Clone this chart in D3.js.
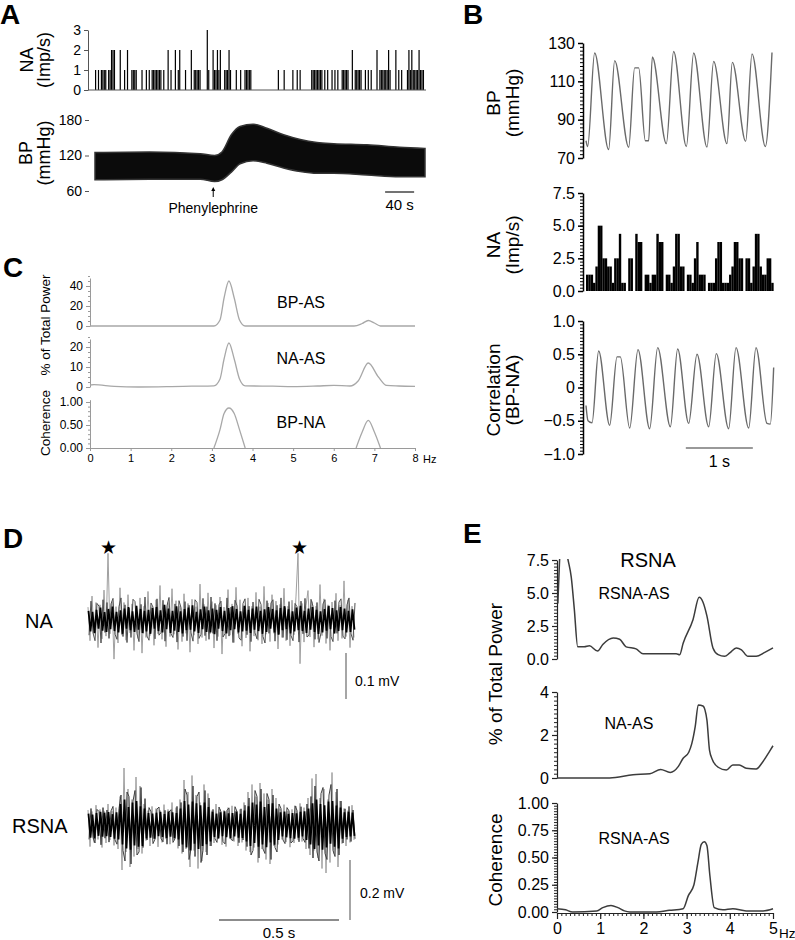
<!DOCTYPE html>
<html><head><meta charset="utf-8">
<script src="https://cdn.jsdelivr.net/npm/d3@7"></script>
<style>body{margin:0;background:#fff}svg{display:block}</style>
</head><body><svg id="c" width="795" height="940"></svg>
<script>
// ================= DATA =================
// Panel A – NA spike histogram (bin start, s; 2-s bins) and counts (imp/s)
const aNaSec = [0,4,8,10,12,14,18,20,22,24,26,34,40,44,50,52,54,56,64,70,74,78,80,82,84,86,88,90,94,100,104,110,114,116,124,132,136,138,140,142,144,154,156,162,164,166,168,170,172,178,180,182,184,186,194,200,206,208,210,212,214,252,260,272,278,282,298,300,302,304,306,308,310,312,316,320,326,330,334,340,342,344,346,348,354,358,360,362,364,366,372,376,380,388,392,394,396,398,400,402,404,406,414,418,422,430,432,434,436,438,440,442,444,446,448,450,452];
const aNaCount = [1,1,1,1,1,1,1,1,2,2,2,2,1,2,1,1,1,1,1,1,1,1,1,1,1,1,1,1,1,2,1,2,1,2,1,2,1,1,1,1,1,3,1,2,1,1,2,1,2,1,1,1,2,1,1,1,1,1,1,1,1,1,1,1,1,1,1,1,1,1,1,1,1,1,1,1,1,1,1,1,1,1,1,1,2,1,1,1,1,1,1,1,1,2,1,1,1,1,1,1,2,1,2,1,1,1,2,1,2,1,1,1,1,2,1,1,1];
// Panel A – BP envelope (time s, systolic / diastolic mmHg)
const aBpTime = [0,75,145,165,175,188,200,218,237,260,283,306,329,375,420,455];
const aBpSys  = [125,126,123,120,126,155,169,173,166,155,147,142,140,138,134,132];
const aBpDia  = [79,80,80,76,79,92,106,111,107,99,93,90,90,87,84,84];
const aPhenylephrineSec = 163;
const aTicksNa = [0,1,2,3];
const aTicksBp = [60,120,180];

// Panel B – BP (s, mmHg)
const bBpT = [0,0.025,0.129,0.338,0.428,0.637,0.726,0.786,0.886,0.935,0.990,1.199,1.308,1.498,1.607,1.806,1.905,2.104,2.184,2.383,2.478,2.677,2.776];
const bBpV = [79,76,124.8,74.4,120.8,75.6,117,117,79,79,122.7,77.5,125.6,76,124.8,75.7,120.4,77.5,119.9,78.7,124.3,76,125];
// Panel B – NA rate per 0.035-s bin (imp/s)
const bNaRate = [1.25,1.25,1.25,0.625,1.875,5,5,2.5,2.5,1.875,1.875,0.625,2.5,2.5,4.375,0.625,0.625,0,2.5,2.5,0,4.375,3.75,3.75,0,1.25,1.25,0.625,1.25,1.25,4.375,3.75,3.75,0,1.25,1.25,0.625,1.875,4.375,4.375,1.875,1.875,0,1.25,1.25,0.625,2.5,3.75,1.25,1.25,1.25,0,0.625,0.625,0.625,2.5,3.75,3.75,0.625,0.625,0.625,1.25,1.875,3.75,3.75,2.5,2.5,0,2.5,2.5,0.625,1.875,4.375,4.375,1.875,1.25,1.25,2.5,2.5,0.625];
// Panel B – correlation (s, r)
const bCorT = [0,0.03,0.09,0.189,0.353,0.463,0.512,0.652,0.776,0.950,1.070,1.259,1.368,1.532,1.657,1.831,1.945,2.129,2.239,2.428,2.537,2.701,2.751,2.801];
const bCorV = [-0.27,-0.5,-0.53,0.55,-0.57,0.46,0.46,-0.61,0.57,-0.62,0.6,-0.59,0.58,-0.54,0.5,-0.59,0.51,-0.62,0.6,-0.61,0.6,-0.54,-0.55,0.3];

// Panel C – spectra (Hz)
const cBpF = [0,3.05,3.2,3.3,3.42,3.55,3.68,3.82,6.5,6.7,6.85,7.0,7.15,8.0];
const cBpV = [0,0,6,28,45,28,6,0,0,2.5,5.5,3,0,0];
const cNaF = [0,0.1,0.6,1.2,2.0,2.5,3.05,3.2,3.3,3.42,3.55,3.68,3.82,4.5,5.0,5.6,6.0,6.4,6.6,6.85,7.1,7.3,7.6,8.0];
const cNaV = [1,1.2,0.3,0,0.2,0.4,0.6,4,14,22,14,4,0.6,0.4,0.2,0.5,0.8,0.5,3,12,5,0.8,0.5,0.3];
const cCohF1 = [3.05,3.2,3.3,3.42,3.55,3.68,3.82];
const cCohV1 = [0,0.4,0.75,0.87,0.75,0.4,0];
const cCohF2 = [6.55,6.7,6.85,7.0,7.15];
const cCohV2 = [0,0.35,0.6,0.35,0];
const cHzTicks = [0,1,2,3,4,5,6,7,8];

// Panel D – raw nerve traces (µV), one sample per 1/120 s per layer
const dNaGray = [28,-45,52,-30,38,-60,33,-41,65,-35,145,-30,40,-85,29,-50,70,-33,38,-44,55,-28,35,-66,31,-40,48,-72,30,-38,62,-34,29,-55,44,-30,75,-42,33,-58,38,-36,68,-31,42,-64,30,-47,57,-29,36,-70,45,-33,29,-52,78,-38,34,-45,59,-30,40,-61,32,-36,50,-74,28,-41,66,-33,35,-49,71,-30,44,-57,31,-39,48,-68,30,-35,60,-44,29,-52,73,-31,37,-47,55,-29,41,-63,34,-38,69,-45,30,-56,43,-32,52,145,-95,36,-48,31,64,-37,40,-59,30,-42,77,-34,46,-51,33,-66,39,-30,58,-45,32,-40,85,-36,44,-60,30,-38];
const dNaMid = [-33,41,-28,-45,36,30,-50,44,-27,38,-40,35,47,-31,-42,29,48,-36,33,-49,26,-38,45,40,-30,-47,34,-29,50,-35,-44,37,28,-41,46,-33,-27,43,-46,31,49,-30,-38,35,-48,42,27,-36,40,-45,32,-28,-46,44,38,-40,-31,47,-34,29,-42,50,-29,36,-45,33,41,-37,-30,48,-35,28,-49,43,31,-39,-44,36,46,-32,30,-47,39,-28,-41,45,34,-36,-50,42,-29,37,44,-46,32,-31,48,-38,27,-43,40,-34,-45,36,29,-48,41,-30,47,-37,-33,45,30,-42,38,-49,-28,35,44,-40,31,-36,-47,42,-29,39,46,-35,-41,33,48,-30,-44,37];
const dNaBlack = [20,-25,18,-28,22,-19,27,-23,17,-26,24,-20,29,-24,18,-27,21,-30,25,-19,28,-22,19,-26,31,-21,24,-28,20,-25,22,-30,26,-19,28,-24,21,-27,33,-20,25,-28,20,-23,30,-26,19,-29,24,-22,27,-21,32,-25,18,-28,23,-20,29,-26,21,-27,25,-31,22,-19,28,-24,20,-29,26,-22,30,-20,24,-27,19,-25,31,-23,22,-28,25,-21,29,-24,20,-30,23,-26,28,-19,24,-27,21,-32,26,-22,30,-20,23,-29,19,-25,27,-22,31,-24,20,-28,25,-21,28,-26,22,-30,19,-27,24,-23,30,-20,26,-29,21,-24,28,-22,25,-27,20,-26,23,-21];
const dRsGray = [50,-72,45,-58,66,-48,52,-75,47,-60,70,-50,46,-68,58,-80,95,-150,190,-90,120,-140,85,-105,160,-80,130,-95,70,-52,48,-70,62,-46,55,-73,49,-58,68,-47,52,-64,75,-50,58,-78,85,-95,150,-80,110,-140,165,-85,100,-145,75,-120,135,-90,105,-70,48,-60,70,-47,53,-66,49,-72,58,-46,64,-55,47,-70,52,-58,75,-85,110,-90,135,-75,95,-125,140,-80,105,-115,85,-130,120,-70,90,-65,55,-48,68,-57,46,-74,52,-60,63,-49,72,-55,58,-80,90,-100,155,-85,170,-110,90,-145,120,-160,85,-125,175,-95,110,-140,80,-62,55,-70,48,-58,66,-50];
const dRsMid = [-48,55,-42,-60,52,45,-66,58,-44,50,-57,47,62,-50,-64,55,100,-85,-120,110,95,-130,80,115,-100,-90,125,-75,88,-50,58,44,-62,-47,53,60,-45,-56,49,-64,43,51,-58,-46,62,-70,75,-90,120,100,-115,-80,130,-105,95,110,-125,-85,115,-100,90,-70,52,-46,-58,60,44,-55,-63,49,57,-48,-52,61,45,-59,54,-50,66,-72,90,-100,-85,115,95,-110,120,-80,-95,105,85,-115,100,-75,-90,70,55,-50,-62,58,47,-60,-53,64,49,-56,61,-45,-58,70,-78,95,-110,130,-90,-120,105,125,-95,-115,100,135,-85,-105,120,-100,80,-60,54,-48,62,-55,50,-46];
const dRsBlack = [38,-42,35,-45,40,-36,44,-39,41,-37,43,-40,36,-46,42,-48,70,-65,85,-78,60,-82,75,-68,80,-72,62,-70,55,-45,40,-42,38,-46,41,-37,44,-40,36,-43,45,-39,42,-44,40,-48,55,-65,80,-75,68,-85,78,-62,72,-80,66,-70,75,-64,60,-55,44,-40,38,-45,42,-37,46,-41,39,-44,40,-38,45,-42,37,-43,48,-55,62,-70,75,-60,68,-72,78,-65,60,-74,70,-58,72,-66,55,-50,42,-38,45,-41,37,-44,40,-46,39,-42,44,-38,46,-50,55,-65,72,-80,85,-68,70,-82,66,-75,78,-62,80,-72,65,-78,58,-46,42,-40,44,-38,41,-36];
const dStarSec = [0.079,0.872];

// Panel E – spectra (Hz)
const eRsF = [0.02,0.12,0.25,0.33,0.4,0.48,0.63,0.75,0.94,1.06,1.3,1.45,1.6,1.83,1.99,2.76,2.84,2.92,3.15,3.29,3.38,3.47,3.61,3.73,3.88,4.0,4.15,4.27,4.42,4.61,4.81,5.0];
const eRsV = [4.2,10,7.6,6.2,3.8,0.92,0.92,1.0,0.6,1.1,1.6,1.5,0.92,0.77,0.4,0.4,0.33,1.2,3.0,4.67,4.3,3.27,0.84,0.33,0.2,0.46,0.84,0.7,0.2,0.2,0.5,0.84];
const eNaF = [0,1.22,1.76,2.15,2.4,2.62,2.81,2.92,3.05,3.12,3.2,3.27,3.38,3.47,3.53,3.6,3.73,3.92,4.07,4.22,4.38,4.61,4.77,4.92,5.0];
const eNaV = [0,0,0.15,0.2,0.4,0.26,0.54,0.92,1.2,1.6,2.4,3.4,3.35,2.7,1.3,0.84,0.5,0.37,0.6,0.6,0.45,0.42,0.77,1.24,1.5];
const eCohF = [0,0.2,0.36,0.92,1.06,1.25,1.41,1.56,1.68,2.3,2.6,2.92,3.04,3.17,3.26,3.34,3.41,3.47,3.54,3.64,3.84,4.07,4.38,4.77,5.0];
const eCohV = [0.03,0.02,0,0.01,0.04,0.06,0.04,0.01,0,0,0.015,0.03,0.15,0.25,0.45,0.62,0.645,0.61,0.33,0.04,0.02,0.03,0.01,0.01,0.03];
const eHzTicks = [0,1,2,3,4,5];

// ================= DRAWING =================
const FONT = '"Liberation Sans", Arial, Helvetica, sans-serif';
const svg = d3.select('#c');
svg.append('rect').attr('width',795).attr('height',940).attr('fill','#fff');

function txt(x,y,s,size,o={}){
  const t = svg.append('text').attr('x',x).attr('y',y).text(s)
    .attr('font-size',size).attr('font-family',FONT)
    .attr('fill',o.fill||'#000').attr('text-anchor',o.anchor||'start');
  if(o.bold) t.attr('font-weight','bold');
  if(o.rot) t.attr('transform',`rotate(-90,${x},${y})`);
  return t;
}
function yAxis(scale,x,major,fmt,o){
  const g = svg.append('g').attr('transform',`translate(${x},0)`);
  const col = o.color||'#000';
  if(o.minor){
    const [d0,d1]=scale.domain();
    const mt=d3.range(d0,d1+o.minor/2,o.minor);
    const m=g.append('g').call(d3.axisLeft(scale).tickValues(mt).tickSize(o.minorLen||3).tickFormat('').tickSizeOuter(0));
    m.select('.domain').remove();
    m.selectAll('line').attr('stroke',col).attr('stroke-width',o.msw||1);
  }
  const a=g.append('g').call(d3.axisLeft(scale).tickValues(major).tickFormat(fmt).tickSize(o.len||6).tickPadding(o.pad||3).tickSizeOuter(0));
  a.select('.domain').attr('stroke',o.noDomain?'none':col).attr('stroke-width',o.sw||1);
  a.selectAll('line').attr('stroke',col).attr('stroke-width',o.sw||1);
  a.selectAll('text').attr('font-size',o.fs).attr('font-family',FONT).attr('fill','#000');
  return g;
}
function lineOf(xs,ys,xS,yS,curve){
  return d3.line().x((d,i)=>xS(xs[i])).y((d,i)=>yS(ys[i])).curve(curve||d3.curveLinear)(xs);
}

// ---------- Panel A ----------
txt(0,24,'A',28,{bold:true});
const xA = d3.scaleLinear().domain([0,455]).range([95,425]);
const yANa = d3.scaleLinear().domain([0,3]).range([90,30]);
const yABp = d3.scaleLinear().domain([60,180]).range([191,120]);
const bwA = xA(2)-xA(0);
svg.append('g').selectAll('rect').data(aNaSec).join('rect')
  .attr('x',d=>xA(d)).attr('width',bwA-0.25)
  .attr('y',(d,i)=>yANa(aNaCount[i])).attr('height',(d,i)=>yANa(0)-yANa(aNaCount[i]))
  .attr('fill','#000');
svg.append('line').attr('x1',88).attr('x2',xA(455)+1).attr('y1',yANa(0)).attr('y2',yANa(0)).attr('stroke','#555').attr('stroke-width',1);
yAxis(yANa,88,aTicksNa,d3.format('d'),{fs:14,len:4,color:'#555'});
txt(33,60,'NA',18,{anchor:'middle',rot:true});
txt(50,60,'(Imp/s)',18,{anchor:'middle',rot:true});
svg.append('path')
  .attr('d',d3.area().x((d,i)=>xA(aBpTime[i])).y0((d,i)=>yABp(aBpDia[i])).y1((d,i)=>yABp(aBpSys[i])).curve(d3.curveMonotoneX)(aBpTime))
  .attr('fill','#0b0b0b').attr('stroke','#333').attr('stroke-width',1.5);
yAxis(yABp,89,aTicksBp,d3.format('d'),{fs:14,len:4,color:'#555',noDomain:true});
txt(32,153,'BP',18,{anchor:'middle',rot:true});
txt(50,153,'(mmHg)',18,{anchor:'middle',rot:true});
const phx = xA(aPhenylephrineSec);
svg.append('line').attr('x1',phx).attr('x2',phx).attr('y1',190).attr('y2',197).attr('stroke','#000').attr('stroke-width',1);
svg.append('path').attr('d',`M${phx-2},${191}L${phx},${187}L${phx+2},${191}Z`).attr('fill','#000');
txt(phx,213,'Phenylephrine',14,{anchor:'middle'});
svg.append('line').attr('x1',xA(400)).attr('x2',xA(440)).attr('y1',192).attr('y2',192).attr('stroke','#444').attr('stroke-width',1.5);
txt((xA(400)+xA(440))/2,210,'40 s',15,{anchor:'middle'});

// ---------- Panel B ----------
txt(463,24,'B',28,{bold:true});
const xB = d3.scaleLinear().domain([0,2.8]).range([586,773.6]);
const yBBp = d3.scaleLinear().domain([70,130]).range([158,43]);
const yBNa = d3.scaleLinear().domain([0,7.5]).range([291,193]);
const yBCor = d3.scaleLinear().domain([-1,1]).range([454,321]);
yAxis(yBBp,583,[70,90,110,130],d3.format('d'),{fs:16,len:5,minor:2,minorLen:3,sw:1.5});
svg.append('path').attr('d',lineOf(bBpT,bBpV,xB,yBBp,d3.curveMonotoneX)).attr('fill','none').attr('stroke','#6a6a6a').attr('stroke-width',1.4);
txt(500,103,'BP',19,{anchor:'middle',rot:true});
txt(519,103,'(mmHg)',19,{anchor:'middle',rot:true});
const bBin = 0.035;
svg.append('g').selectAll('rect').data(bNaRate).join('rect')
  .attr('x',(d,i)=>xB(i*bBin)).attr('width',xB(bBin)-xB(0)+0.05)
  .attr('y',d=>yBNa(d)).attr('height',d=>yBNa(0)-yBNa(d)).attr('fill','#000');
yAxis(yBNa,583,[0,2.5,5,7.5],d3.format('.1f'),{fs:16,len:5,minor:0.25,minorLen:3,sw:1.5});
txt(500,245,'NA',19,{anchor:'middle',rot:true});
txt(519,245,'(Imp/s)',19,{anchor:'middle',rot:true});
yAxis(yBCor,583,[-1,-0.5,0,0.5,1],d=>d===0?'0':d3.format('.1f')(d),{fs:16,len:5,minor:0.05,minorLen:3,sw:1.5});
svg.append('path').attr('d',lineOf(bCorT,bCorV,xB,yBCor,d3.curveMonotoneX)).attr('fill','none').attr('stroke','#6a6a6a').attr('stroke-width',1.4);
txt(500,390,'Correlation',19,{anchor:'middle',rot:true});
txt(519,390,'(BP-NA)',19,{anchor:'middle',rot:true});
svg.append('line').attr('x1',xB(1.49)).attr('x2',xB(2.49)).attr('y1',448).attr('y2',448).attr('stroke','#777').attr('stroke-width',1.5);
txt(xB(1.99),467,'1 s',16,{anchor:'middle'});

// ---------- Panel C ----------
txt(3,277,'C',28,{bold:true});
const xC = d3.scaleLinear().domain([0,8]).range([90,415]);
const yC1 = d3.scaleLinear().domain([0,48]).range([326,278]);
const yC2 = d3.scaleLinear().domain([0,24]).range([387,339]);
const yC3 = d3.scaleLinear().domain([0,1.05]).range([448,399.7]);
const cGray = '#9a9a9a';
yAxis(yC1,90,[0,20,40],d3.format('d'),{fs:12,len:4,minor:5,minorLen:2,color:cGray});
yAxis(yC2,90,[0,10,20],d3.format('d'),{fs:12,len:4,minor:2.5,minorLen:2,color:cGray});
yAxis(yC3,90,[0,0.5,1],d3.format('.2f'),{fs:12,len:4,minor:0.1,minorLen:2,color:cGray});
svg.append('path').attr('d',lineOf(cBpF,cBpV,xC,yC1,d3.curveMonotoneX)).attr('fill','none').attr('stroke','#a8a8a8').attr('stroke-width',1.3);
svg.append('path').attr('d',lineOf(cNaF,cNaV,xC,yC2,d3.curveMonotoneX)).attr('fill','none').attr('stroke','#a8a8a8').attr('stroke-width',1.3);
svg.append('path').attr('d',lineOf(cCohF1,cCohV1,xC,yC3,d3.curveMonotoneX)).attr('fill','none').attr('stroke','#a8a8a8').attr('stroke-width',1.3);
svg.append('path').attr('d',lineOf(cCohF2,cCohV2,xC,yC3,d3.curveMonotoneX)).attr('fill','none').attr('stroke','#a8a8a8').attr('stroke-width',1.3);
const cx = svg.append('g').attr('transform','translate(0,448)')
  .call(d3.axisBottom(xC).tickValues(cHzTicks).tickFormat(d3.format('d')).tickSize(3).tickSizeOuter(0));
cx.select('.domain').attr('stroke',cGray);
cx.selectAll('line').attr('stroke',cGray);
cx.selectAll('text').attr('font-size',11).attr('font-family',FONT).attr('fill','#000');
txt(xC(8)+8,463,'Hz',11);
txt(301,308,'BP-AS',16,{anchor:'middle'});
txt(301,364,'NA-AS',16,{anchor:'middle'});
txt(301,428,'BP-NA',16,{anchor:'middle'});
txt(50,325,'% of Total Power',13.5,{anchor:'middle',rot:true});
txt(50,423,'Coherence',13.5,{anchor:'middle',rot:true});

// ---------- Panel D ----------
txt(3,548,'D',28,{bold:true});
const xD = d3.scaleLinear().domain([0,133/120]).range([88,354]);
const yDNa = d3.scaleLinear().domain([-100,100]).range([666,574]);
const yDRs = d3.scaleLinear().domain([-200,200]).range([885,765]);
function trace(vals,yS,off,color,w){
  svg.append('path').attr('d',d3.line().x((d,i)=>xD((i+off)/120)).y(d=>yS(d))(vals))
    .attr('fill','none').attr('stroke',color).attr('stroke-width',w).attr('stroke-linejoin','bevel');
}
trace(dNaGray,yDNa,0,'#a0a0a0',1);
trace(dNaMid,yDNa,0.5,'#505050',1);
trace(dNaBlack,yDNa,0.25,'#000',1.8);
dStarSec.forEach(t=>txt(xD(t)+2,554,'★',19,{anchor:'middle'}));
txt(25,628,'NA',20);
const naBarTop = 653;
svg.append('line').attr('x1',346).attr('x2',346).attr('y1',naBarTop).attr('y2',naBarTop+(yDNa(0)-yDNa(100))).attr('stroke','#888').attr('stroke-width',1.5);
txt(355,686,'0.1 mV',14);
trace(dRsGray,yDRs,0,'#a0a0a0',1);
trace(dRsMid,yDRs,0.5,'#404040',1);
trace(dRsBlack,yDRs,0.25,'#000',1.8);
txt(12,833,'RSNA',20);
const rsBarTop = 860;
svg.append('line').attr('x1',350).attr('x2',350).attr('y1',rsBarTop).attr('y2',rsBarTop+(yDRs(0)-yDRs(200))).attr('stroke','#888').attr('stroke-width',1.5);
txt(360,898,'0.2 mV',14);
svg.append('line').attr('x1',219).attr('x2',219+(xD(0.5)-xD(0))).attr('y1',920).attr('y2',920).attr('stroke','#666').attr('stroke-width',1.5);
txt(219+(xD(0.25)-xD(0)),938,'0.5 s',15,{anchor:'middle'});

// ---------- Panel E ----------
txt(463,543,'E',28,{bold:true});
const xE = d3.scaleLinear().domain([0,5]).range([557,773]);
const yE1 = d3.scaleLinear().domain([0,7.5]).range([659,560]);
const yE2 = d3.scaleLinear().domain([0,4]).range([778,692]);
const yE3 = d3.scaleLinear().domain([0,1]).range([912,803]);
txt(648,567,'RSNA',20,{anchor:'middle'});
yAxis(yE1,557,[0,2.5,5,7.5],d3.format('.1f'),{fs:16,len:5,minor:0.25,minorLen:3,color:'#222',sw:1.2});
svg.append('clipPath').attr('id','e1').append('rect').attr('x',550).attr('y',559).attr('width',230).attr('height',110);
svg.append('path').attr('clip-path','url(#e1)').attr('d',lineOf(eRsF,eRsV,xE,yE1,d3.curveMonotoneX)).attr('fill','none').attr('stroke','#3c3c3c').attr('stroke-width',1.5);
txt(634,599,'RSNA-AS',16,{anchor:'middle'});
yAxis(yE2,557,[0,2,4],d3.format('d'),{fs:16,len:5,minor:0.2,minorLen:3,color:'#222',sw:1.2});
svg.append('path').attr('d',lineOf(eNaF,eNaV,xE,yE2,d3.curveMonotoneX)).attr('fill','none').attr('stroke','#3c3c3c').attr('stroke-width',1.5);
txt(629,729,'NA-AS',16,{anchor:'middle'});
yAxis(yE3,557,[0,0.25,0.5,0.75,1],d3.format('.2f'),{fs:16,len:5,minor:0.025,minorLen:3,color:'#222',sw:1.2});
svg.append('path').attr('d',lineOf(eCohF,eCohV,xE,yE3,d3.curveMonotoneX)).attr('fill','none').attr('stroke','#3c3c3c').attr('stroke-width',1.5);
txt(634,844,'RSNA-AS',16,{anchor:'middle'});
const exm = svg.append('g').attr('transform','translate(0,913)')
  .call(d3.axisBottom(xE).tickValues(d3.range(0,5.001,0.1)).tickFormat('').tickSize(3).tickSizeOuter(0));
exm.select('.domain').remove(); exm.selectAll('line').attr('stroke','#222');
const ex = svg.append('g').attr('transform','translate(0,913)')
  .call(d3.axisBottom(xE).tickValues(eHzTicks).tickFormat(d3.format('d')).tickSize(6).tickSizeOuter(0).tickPadding(4));
ex.select('.domain').attr('stroke','#222').attr('stroke-width',1.2);
ex.selectAll('line').attr('stroke','#222').attr('stroke-width',1.2);
ex.selectAll('text').attr('font-size',16).attr('font-family',FONT).attr('fill','#000');
txt(779,938,'Hz',13.5);
txt(502,674,'% of Total Power',19,{anchor:'middle',rot:true});
txt(502,860,'Coherence',19,{anchor:'middle',rot:true});
</script></body></html>
